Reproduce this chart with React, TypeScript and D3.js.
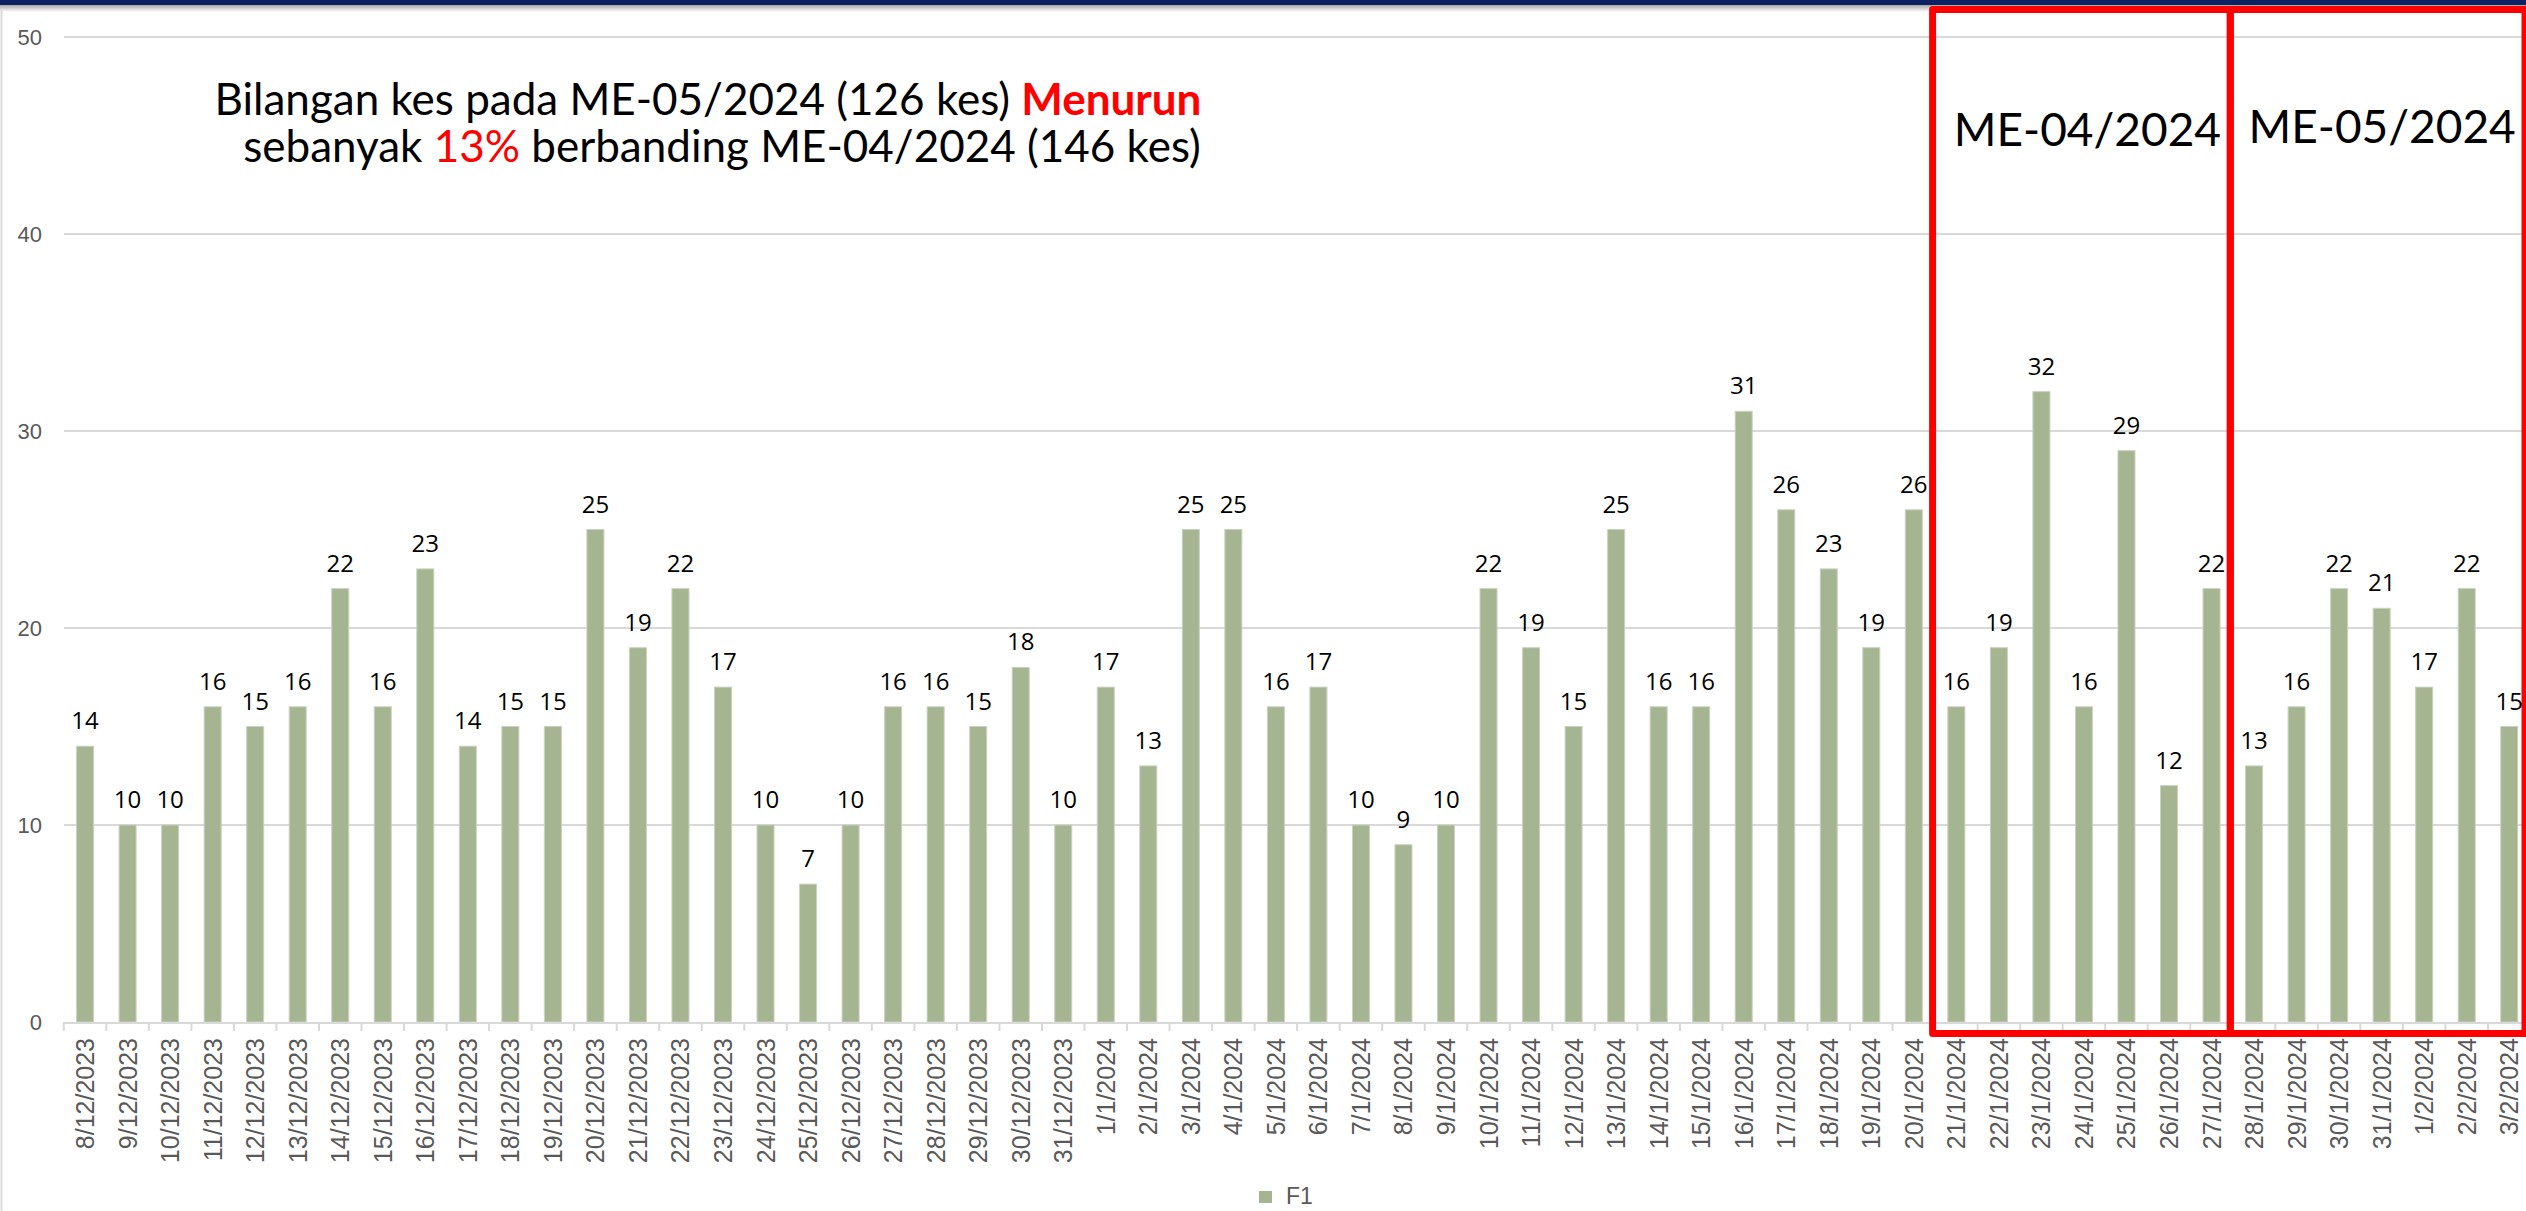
import React, { useRef, useEffect } from 'react'
import * as d3 from 'd3'

// Daily case counts, 8/12/2023 – 3/2/2024
const decDays = ['8', '9', '10', '11', '12', '13', '14', '15', '16', '17', '18', '19', '20', '21', '22', '23', '24', '25', '26', '27', '28', '29', '30', '31']
const janDays = ['1', '2', '3', '4', '5', '6', '7', '8', '9', '10', '11', '12', '13', '14', '15', '16', '17', '18', '19', '20', '21', '22', '23', '24', '25', '26', '27', '28', '29', '30', '31']
const febDays = ['1', '2', '3']

const dates = [
  ...decDays.map(d => `${d}/12/2023`),
  ...janDays.map(d => `${d}/1/2024`),
  ...febDays.map(d => `${d}/2/2024`),
]

const decValues = [14, 10, 10, 16, 15, 16, 22, 16, 23, 14, 15, 15, 25, 19, 22, 17, 10, 7, 10, 16, 16, 15, 18, 10]
const janValues = [17, 13, 25, 25, 16, 17, 10, 9, 10, 22, 19, 15, 25, 16, 16, 31, 26, 23, 19, 26, 16, 19, 32, 16, 29, 12, 22, 13, 16, 22, 21]
const febValues = [17, 22, 15]
const values = [...decValues, ...janValues, ...febValues]

const yTicks = [0, 10, 20, 30, 40, 50]

// epid-week boxes: label, first date, last date
const weeks = [
  { label: 'ME-04/2024', from: '21/1/2024', to: '27/1/2024', dy: 0 },
  { label: 'ME-05/2024', from: '28/1/2024', to: '3/2/2024', dy: -3 },
]

const W = 2526
const H = 1211
const barColor = '#a5b592'
const gridColor = '#d9d9d9'
const axisText = '#595959'

export default function App() {
  const svgRef = useRef<SVGSVGElement>(null)

  useEffect(() => {
    if (!svgRef.current) return
    const svg = d3.select(svgRef.current)
    svg.selectAll('*').remove()

    const x = d3.scaleBand<string>()
      .domain(dates)
      .range([63.8, 2530.5])
      .paddingInner(0.6)
      .paddingOuter(0.3)
    const y = d3.scaleLinear().domain([0, 50]).range([1022, 37])
    const step = x.step()
    const pad = (step - x.bandwidth()) / 2

    svg.append('rect').attr('width', W).attr('height', H).attr('fill', 'white')

    // top navy strip with shadow
    const defs = svg.append('defs')
    const grad = defs.append('linearGradient').attr('id', 'shade')
      .attr('x1', 0).attr('y1', 0).attr('x2', 0).attr('y2', 1)
    grad.append('stop').attr('offset', 0).attr('stop-color', '#000').attr('stop-opacity', 0.35)
    grad.append('stop').attr('offset', 1).attr('stop-color', '#000').attr('stop-opacity', 0)
    svg.append('rect').attr('x', 0).attr('y', 5).attr('width', W).attr('height', 7).attr('fill', 'url(#shade)')
    svg.append('rect').attr('x', 0).attr('y', 0).attr('width', W).attr('height', 5).attr('fill', '#0b2162')

    // left border of chart area
    svg.append('line')
      .attr('x1', 1.5).attr('x2', 1.5).attr('y1', 10).attr('y2', H)
      .attr('stroke', gridColor).attr('stroke-width', 2)

    // gridlines
    svg.append('g').selectAll('line')
      .data(yTicks.filter(t => t > 0))
      .join('line')
      .attr('x1', 64).attr('x2', W)
      .attr('y1', d => y(d)).attr('y2', d => y(d))
      .attr('stroke', gridColor).attr('stroke-width', 2)

    // y tick labels
    svg.append('g').selectAll('text')
      .data(yTicks)
      .join('text')
      .attr('x', 42)
      .attr('y', d => y(d))
      .attr('dy', '0.36em')
      .attr('text-anchor', 'end')
      .attr('font-family', 'Liberation Sans, Arial, sans-serif')
      .attr('font-size', 22)
      .attr('fill', axisText)
      .text(d => d)

    // bars
    svg.append('g').selectAll('rect')
      .data(values)
      .join('rect')
      .attr('x', (d, i) => x(dates[i])!)
      .attr('y', d => y(d))
      .attr('width', x.bandwidth())
      .attr('height', d => y(0) - y(d))
      .attr('fill', barColor)
      .attr('stroke', '#c9d2bf')
      .attr('stroke-width', 1)

    // x axis line and ticks
    svg.append('line')
      .attr('x1', 64).attr('x2', W)
      .attr('y1', y(0) + 1).attr('y2', y(0) + 1)
      .attr('stroke', gridColor).attr('stroke-width', 2)
    svg.append('g').selectAll('line')
      .data(dates)
      .join('line')
      .attr('x1', d => x(d)! - pad).attr('x2', d => x(d)! - pad)
      .attr('y1', y(0)).attr('y2', y(0) + 9)
      .attr('stroke', gridColor).attr('stroke-width', 2)

    // x tick labels
    svg.append('g').selectAll('text')
      .data(dates)
      .join('text')
      .attr('transform', d => `translate(${x(d)! + x.bandwidth() / 2},1038) rotate(-90)`)
      .attr('dy', '0.36em')
      .attr('text-anchor', 'end')
      .attr('font-family', 'Liberation Sans, Arial, sans-serif')
      .attr('font-size', 25)
      .attr('fill', axisText)
      .text(d => d)

    // highlight boxes for epid weeks
    weeks.forEach(w => {
      const x0 = x(w.from)! - pad - 2.5
      const x1 = x(w.to)! + x.bandwidth() + pad - 2.5
      const right = Math.min(x1, 2525)
      svg.append('rect')
        .attr('x', x0).attr('y', 9.5)
        .attr('width', right - x0).attr('height', 1033.5 - 9.5)
        .attr('fill', 'none')
        .attr('stroke', '#ff0000')
        .attr('stroke-width', 7)
        .attr('stroke-linejoin', 'round')
      svg.append('text')
        .attr('x', (x0 + Math.min(right, 2522)) / 2 + 6)
        .attr('y', 146 + w.dy)
        .attr('text-anchor', 'middle')
        .attr('font-family', 'Lato, sans-serif')
        .attr('font-size', 46)
        .attr('fill', '#000')
        .text(w.label)
    })

    // value labels (on top of the boxes)
    svg.append('g').selectAll('text')
      .data(values)
      .join('text')
      .attr('x', (d, i) => x(dates[i])! + x.bandwidth() / 2)
      .attr('y', d => y(d) - 17)
      .attr('text-anchor', 'middle')
      .attr('font-family', 'Open Sans, sans-serif')
      .attr('font-size', 24)
      .attr('fill', '#000')
      .text(d => d)

    // annotation
    const note = svg.append('g')
      .attr('font-family', 'Lato, sans-serif')
      .attr('font-size', 44)
      .attr('fill', '#000')
      .attr('text-anchor', 'middle')
    const l1 = note.append('text').attr('x', 708).attr('y', 115)
    l1.append('tspan').text('Bilangan kes pada ME-05/2024 (126 kes) ')
    l1.append('tspan').attr('fill', '#ff0000').attr('font-weight', 'bold').text('Menurun')
    const l2 = note.append('text').attr('x', 722).attr('y', 162)
    l2.append('tspan').text('sebanyak ')
    l2.append('tspan').attr('fill', '#ff0000').text('13%')
    l2.append('tspan').text(' berbanding ME-04/2024 (146 kes)')

    // legend
    svg.append('rect')
      .attr('x', 1259).attr('y', 1191).attr('width', 13).attr('height', 12)
      .attr('fill', barColor)
    svg.append('text')
      .attr('x', 1286).attr('y', 1204)
      .attr('font-family', 'Liberation Sans, Arial, sans-serif')
      .attr('font-size', 23)
      .attr('fill', axisText)
      .text('F1')
  }, [])

  return (
    <svg
      ref={svgRef}
      width={W}
      height={H}
      style={{ position: 'absolute', left: 0, top: 0, display: 'block' }}
    />
  )
}
